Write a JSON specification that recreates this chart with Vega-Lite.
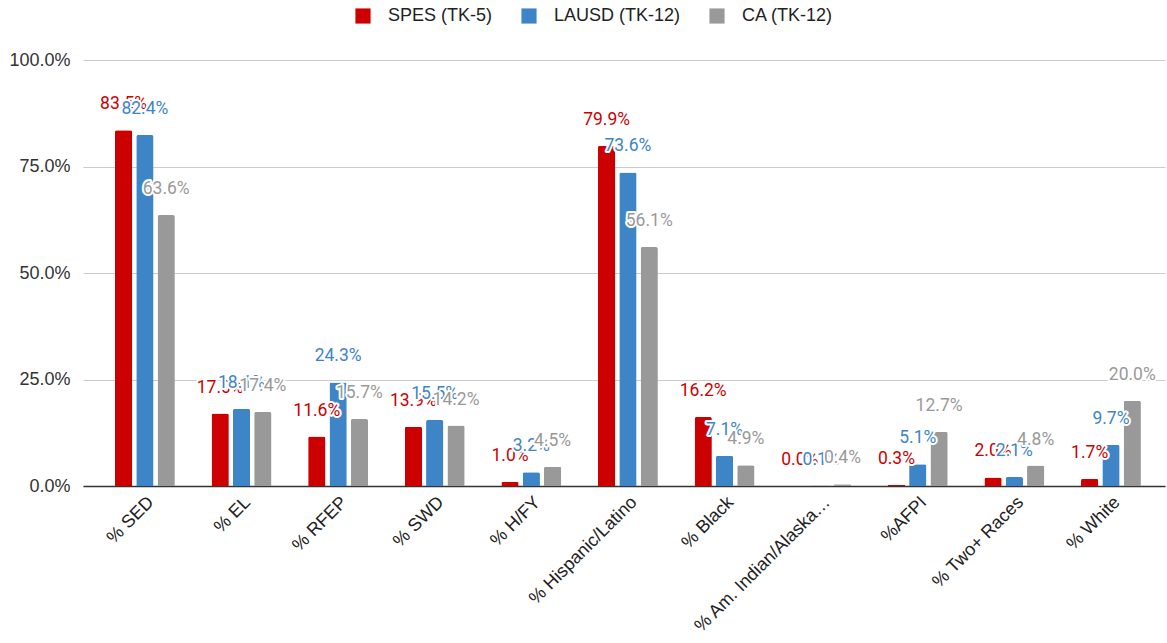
{
  "$schema": "https://vega.github.io/schema/vega-lite/v6.json",
  "width": 1082,
  "height": 426,
  "autosize": "none",
  "padding": {"left": 83, "top": 60, "right": 2, "bottom": 157},
  "background": "white",
  "config": {
    "view": {"stroke": null},
    "font": "Liberation Sans"
  },
  "data": {
    "values": [
      {"metric": "% SED", "group": "SPES (TK-5)", "share": 0.835},
      {"metric": "% SED", "group": "LAUSD (TK-12)", "share": 0.824},
      {"metric": "% SED", "group": "CA (TK-12)", "share": 0.636},
      {"metric": "% EL", "group": "SPES (TK-5)", "share": 0.170},
      {"metric": "% EL", "group": "LAUSD (TK-12)", "share": 0.181},
      {"metric": "% EL", "group": "CA (TK-12)", "share": 0.174},
      {"metric": "% RFEP", "group": "SPES (TK-5)", "share": 0.116},
      {"metric": "% RFEP", "group": "LAUSD (TK-12)", "share": 0.243},
      {"metric": "% RFEP", "group": "CA (TK-12)", "share": 0.157},
      {"metric": "% SWD", "group": "SPES (TK-5)", "share": 0.139},
      {"metric": "% SWD", "group": "LAUSD (TK-12)", "share": 0.155},
      {"metric": "% SWD", "group": "CA (TK-12)", "share": 0.142},
      {"metric": "% H/FY", "group": "SPES (TK-5)", "share": 0.010},
      {"metric": "% H/FY", "group": "LAUSD (TK-12)", "share": 0.032},
      {"metric": "% H/FY", "group": "CA (TK-12)", "share": 0.045},
      {"metric": "% Hispanic/Latino", "group": "SPES (TK-5)", "share": 0.799},
      {"metric": "% Hispanic/Latino", "group": "LAUSD (TK-12)", "share": 0.736},
      {"metric": "% Hispanic/Latino", "group": "CA (TK-12)", "share": 0.561},
      {"metric": "% Black", "group": "SPES (TK-5)", "share": 0.162},
      {"metric": "% Black", "group": "LAUSD (TK-12)", "share": 0.071},
      {"metric": "% Black", "group": "CA (TK-12)", "share": 0.049},
      {"metric": "% Am. Indian/Alaska…", "group": "SPES (TK-5)", "share": 0.000},
      {"metric": "% Am. Indian/Alaska…", "group": "LAUSD (TK-12)", "share": 0.001},
      {"metric": "% Am. Indian/Alaska…", "group": "CA (TK-12)", "share": 0.004},
      {"metric": "%AFPI", "group": "SPES (TK-5)", "share": 0.003},
      {"metric": "%AFPI", "group": "LAUSD (TK-12)", "share": 0.051},
      {"metric": "%AFPI", "group": "CA (TK-12)", "share": 0.127},
      {"metric": "% Two+ Races", "group": "SPES (TK-5)", "share": 0.020},
      {"metric": "% Two+ Races", "group": "LAUSD (TK-12)", "share": 0.021},
      {"metric": "% Two+ Races", "group": "CA (TK-12)", "share": 0.048},
      {"metric": "% White", "group": "SPES (TK-5)", "share": 0.017},
      {"metric": "% White", "group": "LAUSD (TK-12)", "share": 0.097},
      {"metric": "% White", "group": "CA (TK-12)", "share": 0.200}
    ]
  },
  "encoding": {
    "x": {
      "field": "metric",
      "type": "nominal",
      "sort": null,
      "scale": {"paddingInner": 0.38, "paddingOuter": 0.29, "align": 0.57},
      "axis": {
        "title": null,
        "labelAngle": -45,
        "labelAlign": "right",
        "labelBaseline": "top",
        "labelFontSize": 18,
        "labelColor": "#222222",
        "labelPadding": 7,
        "labelLimit": 300,
        "ticks": false,
        "domainColor": "#333333",
        "domainWidth": 1.5
      }
    },
    "xOffset": {
      "field": "group",
      "type": "nominal",
      "sort": ["SPES (TK-5)", "LAUSD (TK-12)", "CA (TK-12)"],
      "scale": {"paddingInner": 0.19}
    },
    "y": {
      "field": "share",
      "type": "quantitative",
      "scale": {"domain": [0, 1], "nice": false},
      "axis": {
        "title": null,
        "values": [0, 0.25, 0.5, 0.75, 1],
        "format": ".1%",
        "labelFontSize": 18,
        "labelColor": "#333333",
        "labelPadding": 13,
        "domain": false,
        "ticks": false,
        "gridColor": "#cccccc",
        "gridWidth": 1.2
      }
    },
    "text": {"field": "share", "type": "quantitative", "format": ".1%"}
  },
  "layer": [
    {
      "mark": {"type": "bar", "cornerRadiusTopLeft": 2, "cornerRadiusTopRight": 2},
      "encoding": {
        "text": null,
        "color": {
          "field": "group",
          "type": "nominal",
          "sort": ["SPES (TK-5)", "LAUSD (TK-12)", "CA (TK-12)"],
          "scale": {
            "domain": ["SPES (TK-5)", "LAUSD (TK-12)", "CA (TK-12)"],
            "range": ["#cc0000", "#3d85c6", "#999999"]
          },
          "legend": {
            "title": null,
            "orient": "none",
            "direction": "horizontal",
            "legendX": 271,
            "legendY": -53,
            "symbolType": "square",
            "symbolSize": 230,
            "symbolStrokeWidth": 0,
            "labelFontSize": 18,
            "labelColor": "#222222",
            "labelOffset": 16,
            "columnPadding": 27
          }
        }
      }
    },
    {
      "transform": [{"filter": "datum.group === 'SPES (TK-5)'"}],
      "mark": {"type": "text", "font": "Roboto", "fontSize": 17.5, "dy": -21, "baseline": "alphabetic", "fill": "white", "stroke": "white", "strokeWidth": 4, "strokeJoin": "round"}
    },
    {
      "transform": [{"filter": "datum.group === 'SPES (TK-5)'"}],
      "mark": {"type": "text", "font": "Roboto", "fontSize": 17.5, "dy": -21, "baseline": "alphabetic", "fill": "#cc0000"}
    },
    {
      "transform": [{"filter": "datum.group === 'LAUSD (TK-12)'"}],
      "mark": {"type": "text", "font": "Roboto", "fontSize": 17.5, "dy": -21, "baseline": "alphabetic", "fill": "white", "stroke": "white", "strokeWidth": 4, "strokeJoin": "round"}
    },
    {
      "transform": [{"filter": "datum.group === 'LAUSD (TK-12)'"}],
      "mark": {"type": "text", "font": "Roboto", "fontSize": 17.5, "dy": -21, "baseline": "alphabetic", "fill": "#3d85c6"}
    },
    {
      "transform": [{"filter": "datum.group === 'CA (TK-12)'"}],
      "mark": {"type": "text", "font": "Roboto", "fontSize": 17.5, "dy": -21, "baseline": "alphabetic", "fill": "white", "stroke": "white", "strokeWidth": 4, "strokeJoin": "round"}
    },
    {
      "transform": [{"filter": "datum.group === 'CA (TK-12)'"}],
      "mark": {"type": "text", "font": "Roboto", "fontSize": 17.5, "dy": -21, "baseline": "alphabetic", "fill": "#999999"}
    }
  ]
}
